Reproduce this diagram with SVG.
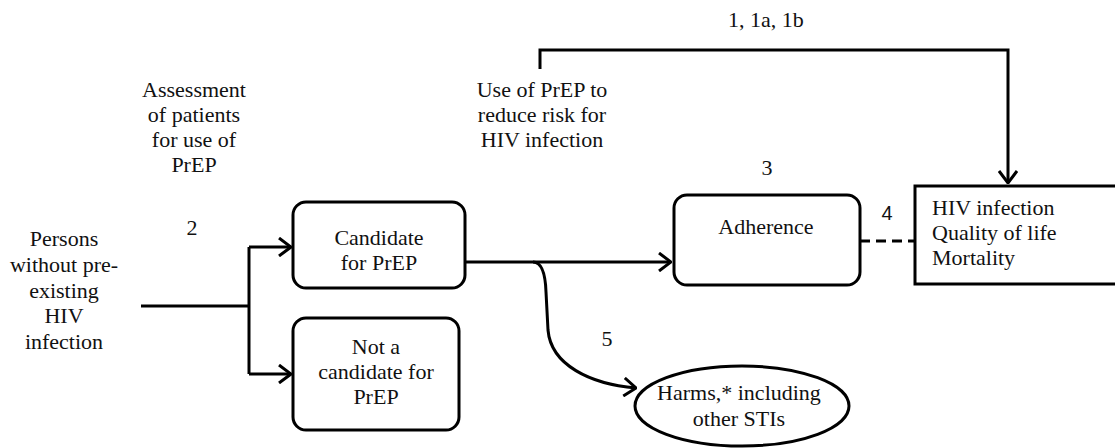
<svg xmlns="http://www.w3.org/2000/svg" width="1115" height="448" viewBox="0 0 1115 448">
<defs>
<style>
.c{text-anchor:middle}
.box{fill:#fff;stroke:#000;stroke-width:3}
.ln{fill:none;stroke:#000;stroke-width:3}
</style>
<marker id="ah" viewBox="0 0 14 20" refX="13" refY="10" markerWidth="14" markerHeight="20" markerUnits="userSpaceOnUse" orient="auto">
<path d="M1,1 L13,10 L1,19" fill="none" stroke="#000" stroke-width="3"/>
</marker>
</defs>
<rect width="1115" height="448" fill="#fff"/>
<g font-family="Liberation Serif, DejaVu Serif, serif" font-size="22" fill="#111">
<g id="connectors">
<path class="ln" d="M141,306 H249"/>
<path class="ln" d="M249,247 V374"/>
<path class="ln" d="M249,247 H291" marker-end="url(#ah)"/>
<path class="ln" d="M249,374 H291" marker-end="url(#ah)"/>
<path class="ln" d="M465,262 H671" marker-end="url(#ah)"/>
<path class="ln" d="M533,262 Q545,262 546,292 L548,330 C551,365 590,384 636,388" marker-end="url(#ah)"/>
<path class="ln" d="M540,69 V50 H1008 V183" marker-end="url(#ah)"/>
<path class="ln" d="M860,241 H915" stroke-dasharray="10,6"/>
<text class="c" x="766" y="27">1, 1a, 1b</text>
<text class="c" x="192" y="235">2</text>
<text class="c" x="767" y="175">3</text>
<text class="c" x="887" y="220" font-family="Liberation Sans, Arial, sans-serif" font-size="20">4</text>
<text class="c" x="607" y="346">5</text>
</g>
<g id="label-assessment">
<text class="c" x="194" y="97">Assessment</text>
<text class="c" x="194" y="122">of patients</text>
<text class="c" x="194" y="147">for use of</text>
<text class="c" x="194" y="172">PrEP</text>
</g>
<g id="label-use">
<text class="c" x="542" y="97">Use of PrEP to</text>
<text class="c" x="542" y="122">reduce risk for</text>
<text class="c" x="542" y="147">HIV infection</text>
</g>
<g id="persons">
<text class="c" x="64" y="246">Persons</text>
<text class="c" x="64" y="272">without pre-</text>
<text class="c" x="64" y="298">existing</text>
<text class="c" x="64" y="323">HIV</text>
<text class="c" x="64" y="349">infection</text>
</g>
<g id="candidate">
<rect class="box" x="293" y="202" width="172" height="86" rx="13"/>
<text class="c" x="379" y="245">Candidate</text>
<text class="c" x="379" y="270">for PrEP</text>
</g>
<g id="not-candidate">
<rect class="box" x="293" y="318" width="166" height="112" rx="13"/>
<text class="c" x="376" y="354">Not a</text>
<text class="c" x="376" y="379">candidate for</text>
<text class="c" x="376" y="404">PrEP</text>
</g>
<g id="adherence">
<rect class="box" x="674" y="195" width="186" height="90" rx="13"/>
<text class="c" x="766" y="234">Adherence</text>
</g>
<g id="outcomes">
<rect class="box" x="915" y="186" width="205" height="98"/>
<text x="932" y="215">HIV infection</text>
<text x="932" y="240">Quality of life</text>
<text x="932" y="265">Mortality</text>
</g>
<g id="harms">
<ellipse class="box" cx="742" cy="406" rx="107" ry="40"/>
<text class="c" x="739" y="400">Harms,* including</text>
<text class="c" x="739" y="426">other STIs</text>
</g>
</g>
</svg>
